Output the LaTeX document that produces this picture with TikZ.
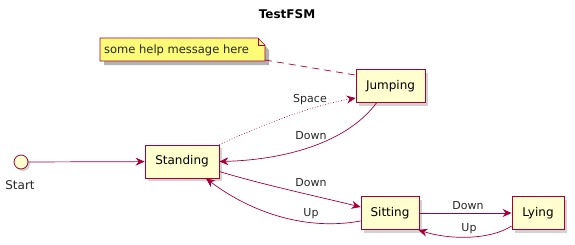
\documentclass[tikz,border=0pt]{standalone}
\usepackage{fontspec}
\setmainfont{DejaVu Sans}
\usetikzlibrary{arrows.meta, shadows, shapes.misc}
\definecolor{umlred}{HTML}{A80036}
\definecolor{umlfill}{HTML}{FEFECE}
\definecolor{umlnote}{HTML}{FBFB77}

\begin{document}
\begin{tikzpicture}[x=1pt, y=-1pt, >={Stealth[length=9pt,width=8pt,inset=3pt]},
    state/.style={draw=umlred, fill=umlfill, line width=0.8pt, inner sep=0pt,
        minimum height=33pt, font=\fontsize{12}{14}\selectfont,
        drop shadow={shadow xshift=3pt, shadow yshift=-3pt, fill=black!35}},
    lbl/.style={font=\fontsize{11}{13}\selectfont, text=black!85},
    trans/.style={->, draw=umlred, line width=0.7pt}]
    \useasboundingbox (0,0) rectangle (575,244);

    \node[font=\bfseries\fontsize{12}{14}\selectfont] (title) at (287,14) {TestFSM};

    % note with folded corner
    \fill[black!30] (104,42) -- (261,42) -- (269,50) -- (269,65) -- (104,65) -- cycle;
    \draw[umlred, fill=umlnote, line width=0.7pt]
        (100,38) -- (258,38) -- (265,45) -- (265,61) -- (100,61) -- cycle;
    \draw[umlred, line width=0.7pt] (258,38) -- (258,45) -- (265,45);
    \node[lbl, font=\fontsize{11.5}{13}\selectfont, anchor=west, inner sep=0pt] (note) at (104,50) {some help message here};
    \coordinate (notend) at (265,60);

    % states
    \node[draw=umlred, fill=umlfill, circle, minimum size=14pt, inner sep=0pt, line width=0.8pt,
        drop shadow={shadow xshift=2pt, shadow yshift=-2pt, fill=black!35}] (start) at (21,162) {};
    \node[lbl, font=\fontsize{12}{14}\selectfont] (startlbl) at (20,185) {Start};
    \node[state, minimum width=74pt] (standing) at (182,161.5) {Standing};
    \node[state, minimum width=69pt] (jumping) at (390.5,86) {Jumping};
    \node[state, minimum width=58pt] (sitting) at (390,213) {Sitting};
    \node[state, minimum width=52pt] (lying) at (538,213) {Lying};

    % transitions
    \draw[trans] (start) -- (standing);
    \draw[trans, dotted] (standing.north east) .. controls (262,125) and (310,106) .. ([yshift=-12pt]jumping.west);
    \node[lbl] (spacelbl) at (310,100) {Space};
    \draw[trans] ([xshift=-14pt]jumping.south) .. controls (345,145) and (280,160) .. (standing.east);
    \node[lbl] (downlbl1) at (311,136) {Down};
    \draw[trans] ([yshift=-10pt]standing.east) .. controls (260,184) and (320,197) .. ([yshift=6pt]sitting.west);
    \node[lbl] (downlbl2) at (311,183) {Down};
    \draw[trans] ([yshift=-8pt]sitting.west) .. controls (300,232) and (245,208) .. ([xshift=24pt]standing.south);
    \node[lbl] (uplbl1) at (311,214) {Up};
    \draw[trans] (sitting) -- (lying);
    \node[lbl] (downlbl3) at (468,206) {Down};
    \draw[trans] ([yshift=-13pt]lying.west) .. controls (490,240) and (450,240) .. ([xshift=-1pt]sitting.south east);
    \node[lbl] (uplbl2) at (469,229) {Up};

    % note link
    \draw[umlred, line width=0.7pt, dash pattern=on 7pt off 5pt] (notend) -- ([yshift=-6pt]jumping.north west);
\end{tikzpicture}
\end{document}
